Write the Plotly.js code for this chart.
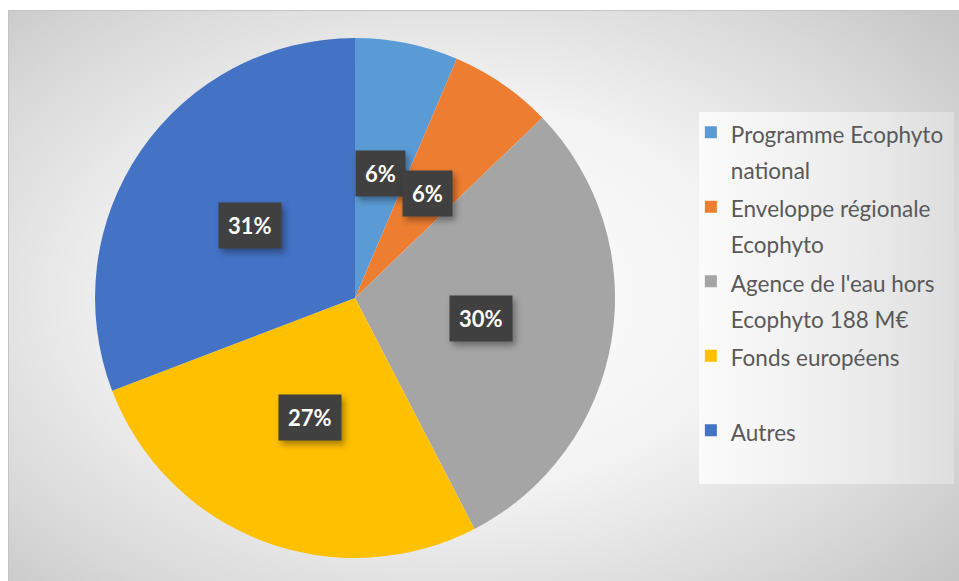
<!DOCTYPE html>
<html lang="fr">
<head>
    <meta charset="UTF-8">
    <script src="https://cdn.plot.ly/plotly-3.0.1.min.js"></script>
    <style>
        html, body {
            margin: 0;
            padding: 0;
            width: 959px;
            height: 581px;
            overflow: hidden;
            background: #ffffff;
        }
        #frame {
            position: absolute;
            left: 8px;
            top: 10px;
            width: 951px;
            height: 571px;
            border-top: 1px solid #c4c4c4;
            border-left: 1px solid #c4c4c4;
            background: radial-gradient(ellipse 70% 75% at 46% 50%, #ffffff 0%, #f3f3f3 45%, #d8d8d8 80%, #c6c6c6 100%);
        }
        #legendbox {
            position: absolute;
            left: 699px;
            top: 112px;
            width: 255px;
            height: 372px;
            background: linear-gradient(to right, #fbfbfb 0%, #ececec 60%, #dedede 100%);
        }
        #plot {
            position: absolute;
            left: 0;
            top: 0;
            width: 959px;
            height: 581px;
        }
        /* ombre portée des étiquettes */
        .annotation rect.bg {
            filter: drop-shadow(3px 4px 3px rgba(0, 0, 0, 0.35));
        }
    </style>
</head>
<body>
<div id="frame"></div>
<div id="legendbox"></div>
<div id="plot"></div>
<script>
    // sources de financement (parts en %)
    const labels = [
        'Programme Ecophyto<br>national',
        'Enveloppe régionale<br>Ecophyto',
        "Agence de l'eau hors<br>Ecophyto 188 M€",
        'Fonds européens<br> ',
        'Autres<br> '
    ];
    const values = [6.4, 6.4, 29.6, 26.8, 30.8];
    const colors = ['#5B9BD5', '#ED7D31', '#A5A5A5', '#FFC000', '#4472C4'];

    const W = 959, H = 581;
    const dom = {x: [0.0991, 0.6413], y: [0.0396, 0.9346]};

    // texte de légende un peu plus petit que l'interligne
    const legendLabels = labels.map(function(l) {
        return l.split('<br>').map(s => '<span style="font-size:22.5px">' + s + '</span>').join('<br>');
    });

    const trace = {
        type: 'pie',
        labels: legendLabels,
        values: values,
        sort: false,
        direction: 'clockwise',
        rotation: 0,
        marker: {colors: colors, line: {width: 0}},
        textinfo: 'none',
        hoverinfo: 'percent',
        domain: dom
    };

    // boîtes de pourcentage placées au milieu de chaque secteur
    const cx = (dom.x[0] + dom.x[1]) / 2 * W;
    const cy = (1 - (dom.y[0] + dom.y[1]) / 2) * H;
    const r = Math.min((dom.x[1] - dom.x[0]) * W, (dom.y[1] - dom.y[0]) * H) / 2;
    const total = values.reduce((a, b) => a + b, 0);
    const annotations = [];
    let cum = 0;
    values.forEach(function(v) {
        const mid = (cum + v / 2) / total * 2 * Math.PI;
        cum += v;
        const px = cx + 0.49 * r * Math.sin(mid);
        const py = cy - 0.49 * r * Math.cos(mid);
        annotations.push({
            xref: 'paper', yref: 'paper',
            x: px / W, y: 1 - py / H,
            text: '<b>' + Math.round(v / total * 100) + '%</b>',
            showarrow: false,
            font: {family: 'Lato, sans-serif', size: 22, color: '#ffffff'},
            bgcolor: '#404040',
            borderpad: 9,
            xanchor: 'center', yanchor: 'middle'
        });
    });

    const layout = {
        width: W,
        height: H,
        margin: {l: 0, r: 0, t: 0, b: 0, pad: 0},
        paper_bgcolor: 'rgba(0,0,0,0)',
        plot_bgcolor: 'rgba(0,0,0,0)',
        showlegend: true,
        legend: {
            x: 0.7204,
            y: 0.8145,
            xanchor: 'left',
            yanchor: 'top',
            valign: 'top',
            bgcolor: 'rgba(0,0,0,0)',
            font: {family: 'Lato, sans-serif', size: 27.5, color: '#595959'}
        },
        annotations: annotations
    };

    Plotly.newPlot('plot', [trace], layout, {displayModeBar: false});
</script>
</body>
</html>
